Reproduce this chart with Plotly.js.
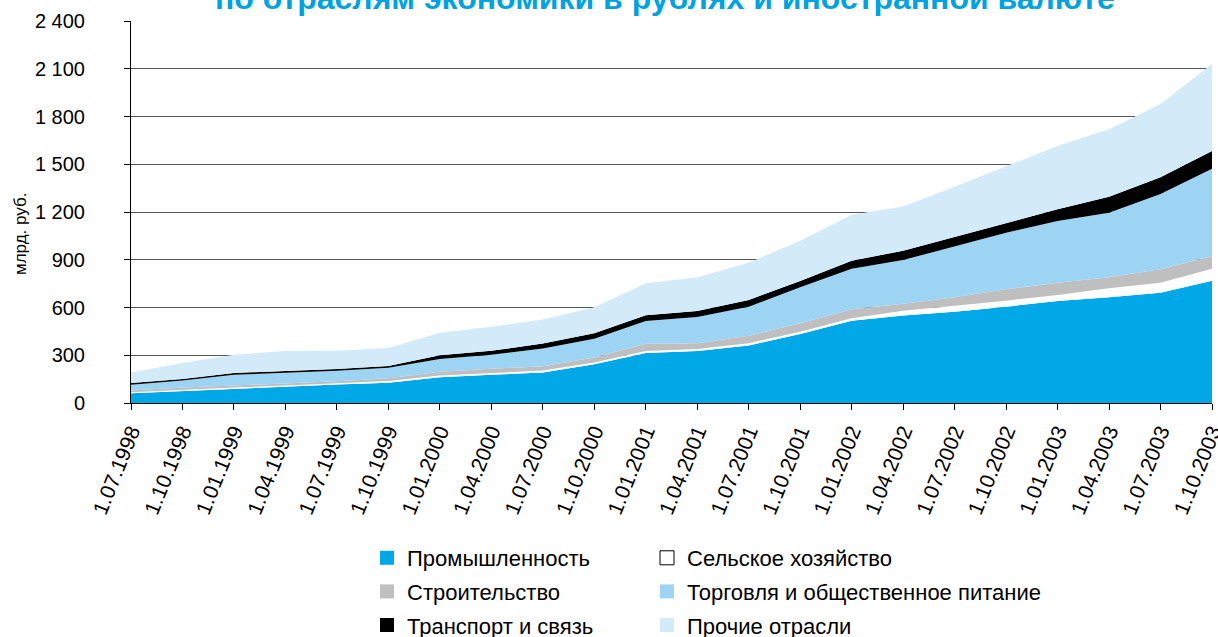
<!DOCTYPE html>
<html>
<head>
<meta charset="utf-8">
<script src="https://cdn.plot.ly/plotly-3.0.1.min.js"></script>
<style>html,body{margin:0;padding:0;background:#fff;}#chart{width:1218px;height:637px;}</style>
</head>
<body>
<div id="chart"></div>
<script>
var dates = ['1.07.1998','1.10.1998','1.01.1999','1.04.1999','1.07.1999','1.10.1999','1.01.2000','1.04.2000','1.07.2000','1.10.2000','1.01.2001','1.04.2001','1.07.2001','1.10.2001','1.01.2002','1.04.2002','1.07.2002','1.10.2002','1.01.2003','1.04.2003','1.07.2003','1.10.2003'];
var industry     = [61,76,90,102,117,128,161,178,191,243,314,327,362,434,517,550,574,605,641,664,693,768];
var agriculture  = [6,7,7,8,8,10,11,12,13,11,13,12,13,14,15,30,37,38,38,57,63,76];
var construction = [12,14,13,12,12,18,25,25,27,32,45,36,48,53,57,43,53,71,77,69,84,80];
var trade        = [35,44,67,67,65,65,79,88,112,117,143,165,182,226,255,275,318,356,388,406,473,548];
var transport    = [12,10,12,11,11,11,24,25,31,36,36,38,42,40,50,59,63,63,73,100,105,111];
var other        = [65,100,114,126,115,114,142,151,151,163,202,212,234,253,289,278,314,356,398,424,461,547];

var seriesNames = ['Промышленность','Сельское хозяйство','Строительство','Торговля и общественное питание','Транспорт и связь','Прочие отрасли'];
var seriesData = [industry, agriculture, construction, trade, transport, other];
var seriesColors = ['#00a8e8','#ffffff','#bfbfbf','#9dd4f4','#000000','#d3eaf9'];
var legendOf = ['legend','legend2','legend','legend2','legend','legend2'];

var FONT = 'Liberation Sans, Arial, sans-serif';
var traces = [];
for (var i = 0; i < seriesNames.length; i++) {
  traces.push({
    type: 'scatter', mode: 'lines', x: dates, y: seriesData[i],
    stackgroup: 'one', line: {width: 0, color: seriesColors[i]},
    fillcolor: seriesColors[i], showlegend: false, hoverinfo: 'skip', name: seriesNames[i]
  });
}
for (var j = 0; j < seriesNames.length; j++) {
  traces.push({
    type: 'scatter', mode: 'markers', x: [null], y: [null], name: seriesNames[j],
    legend: legendOf[j], legendgroup: 'g' + j,
    marker: {symbol: 'square', size: 14, color: seriesColors[j],
             line: {width: j === 1 ? 1 : 0, color: '#000'}},
    showlegend: true
  });
}

var legendCommon = {
  orientation: 'v', traceorder: 'grouped', tracegroupgap: 2,
  font: {family: FONT, size: 22, color: '#000'},
  bgcolor: 'rgba(0,0,0,0)', borderwidth: 0,
  xanchor: 'left', yanchor: 'top', y: (403 - 537) / 382
};
var legend1 = Object.assign({}, legendCommon, {x: (367 - 131) / 1081});
var legend2 = Object.assign({}, legendCommon, {x: (647 - 131) / 1081});

var layout = {
  width: 1218, height: 637,
  margin: {l: 131, r: 6, t: 21, b: 234, pad: 0, autoexpand: false},
  paper_bgcolor: '#fff', plot_bgcolor: '#fff',
  separators: ', ',
  font: {family: FONT, color: '#000'},
  showlegend: true,
  legend: legend1,
  legend2: legend2,
  xaxis: {
    type: 'category', range: [0, dates.length - 1], automargin: false,
    showline: true, linecolor: '#000', linewidth: 1,
    ticks: 'outside', ticklen: 6, tickcolor: '#000', tickwidth: 1,
    showgrid: false, tickangle: -68, ticklabelstandoff: 1,
    tickfont: {family: FONT, size: 21, color: '#000'},
    fixedrange: true
  },
  yaxis: {
    range: [0, 2400], tickvals: [0,300,600,900,1200,1500,1800,2100,2400], automargin: false,
    separatethousands: true, tickformat: ',d',
    showline: true, linecolor: '#000', linewidth: 1,
    ticks: 'outside', ticklen: 6, tickcolor: '#000', tickwidth: 1,
    showgrid: true, gridcolor: '#555555', gridwidth: 1,
    zeroline: false, ticklabelstandoff: 35,
    tickfont: {family: FONT, size: 20, color: '#000'},
    fixedrange: true
  },
  annotations: [
    {text: 'млрд. руб.', xref: 'paper', yref: 'paper', x: (20 - 131) / 1081, y: (403 - 234) / 382,
     xanchor: 'center', yanchor: 'middle', textangle: -90, showarrow: false,
     font: {family: FONT, size: 17, color: '#000'}},
    {text: '<b>по отраслям экономики в рублях и иностранной валюте</b>', xref: 'paper', yref: 'paper',
     x: (665 - 131) / 1081, y: 1, xanchor: 'center', yanchor: 'bottom', yshift: 3, showarrow: false,
     font: {family: FONT, size: 32, color: '#00a3e0'}}
  ]
};

Plotly.newPlot('chart', traces, layout, {staticPlot: true, displayModeBar: false});
</script>
</body>
</html>
